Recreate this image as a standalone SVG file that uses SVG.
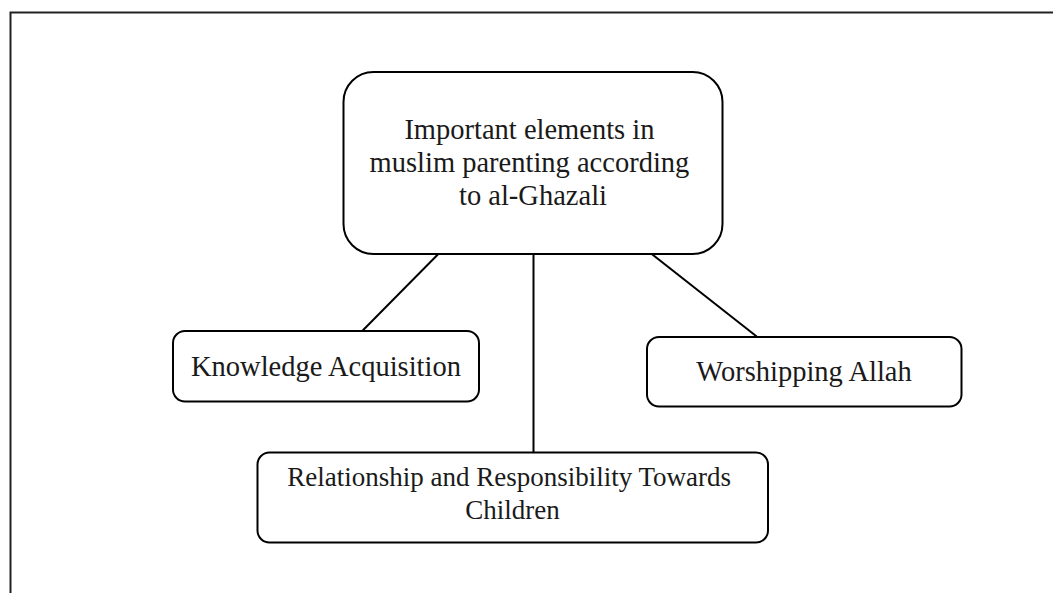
<svg xmlns="http://www.w3.org/2000/svg" width="1053" height="593" viewBox="0 0 1053 593">
  <style>
    .box { fill: #ffffff; stroke: #000000; stroke-width: 2; }
    .lbl { font-family: "Liberation Serif", "Times New Roman", serif; fill: #1a1a1a; text-anchor: middle; }
    .con { stroke: #000000; stroke-width: 2; fill: none; }
    .frame { stroke: #222222; stroke-width: 2; fill: none; }
  </style>
  <rect x="0" y="0" width="1053" height="593" fill="#ffffff"/>
  <path class="frame" d="M10.5 593 V12.5 H1053"/>
  <g id="connectors">
    <line class="con" x1="438.3" y1="254" x2="362.7" y2="330.5"/>
    <line class="con" x1="533.5" y1="254" x2="533.5" y2="452.5"/>
    <line class="con" x1="651.7" y1="254" x2="756.7" y2="336.5"/>
  </g>
  <g id="node-main">
    <rect class="box" x="343.5" y="72" width="379" height="182" rx="30" ry="30"/>
    <text class="lbl" font-size="28.5">
      <tspan x="533" y="139">Important elements in</tspan>
      <tspan x="533" y="172">muslim parenting according</tspan>
      <tspan x="533" y="205">to al-Ghazali</tspan>
    </text>
  </g>
  <g id="node-knowledge">
    <rect class="box" x="173" y="331" width="306" height="70.5" rx="12" ry="12"/>
    <text class="lbl" font-size="28.5" x="326" y="375.5">Knowledge Acquisition</text>
  </g>
  <g id="node-worship">
    <rect class="box" x="647" y="337" width="314.5" height="69.5" rx="12" ry="12"/>
    <text class="lbl" font-size="28.5" x="804" y="381">Worshipping Allah</text>
  </g>
  <g id="node-relationship">
    <rect class="box" x="257.5" y="452.5" width="510.5" height="90" rx="12" ry="12"/>
    <text class="lbl" font-size="27">
      <tspan x="512.5" y="486">Relationship and Responsibility Towards</tspan>
      <tspan x="512.5" y="519">Children</tspan>
    </text>
  </g>
</svg>
